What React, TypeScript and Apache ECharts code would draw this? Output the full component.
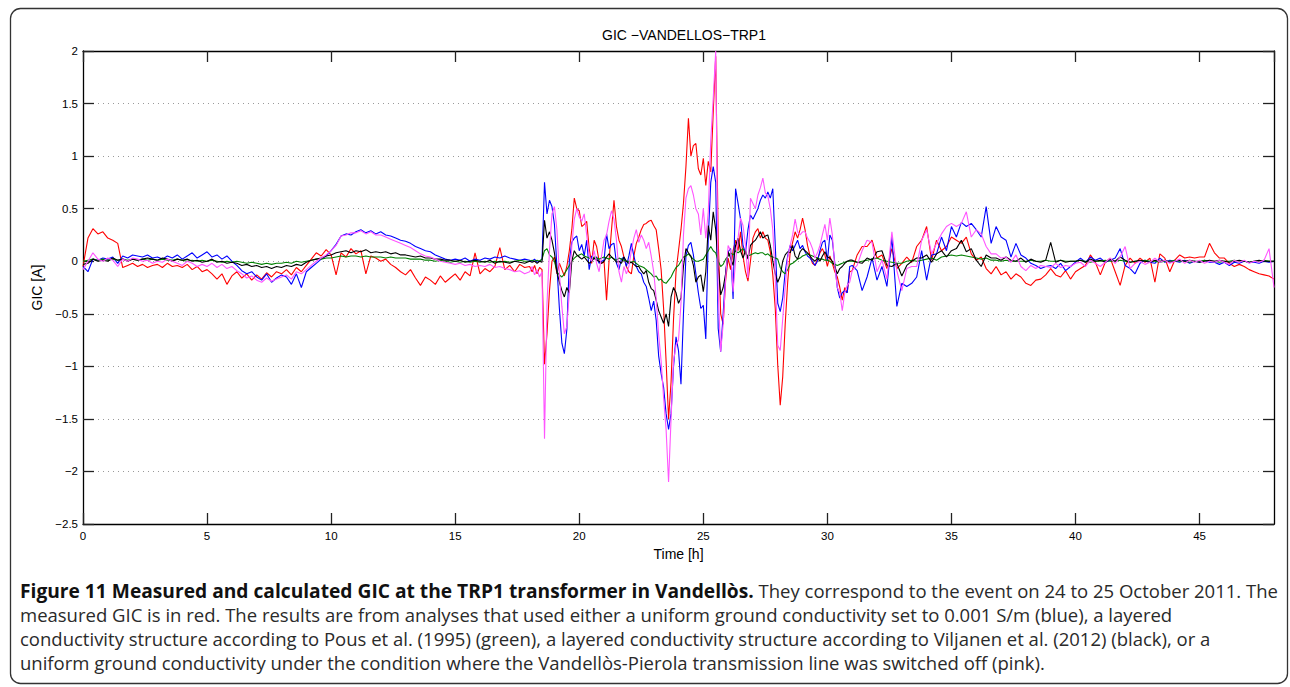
import React, { useEffect, useRef } from "react";
import * as echarts from "echarts";

// ---- time grid pieces (hours) ----
const quietStep = 0.2;
const stormStep = 0.1;

// ---- measured GIC (red) ----
const redA = [
  -0.05, 0.22, 0.31, 0.26, 0.28,
  0.22, 0.2, 0.17, -0.06, -0.04,
  -0.02, -0.05, -0.03, -0.06, -0.04,
  -0.03, -0.06, -0.02, -0.05, -0.04,
  -0.06, -0.03, -0.08, -0.05, -0.1,
  -0.08, -0.12, -0.17, -0.12, -0.22,
  -0.14, -0.1, -0.16, -0.12, -0.18,
  -0.13, -0.17, -0.11, -0.15, -0.1,
  -0.12, -0.08, -0.13, -0.06, -0.1,
  -0.04, 0.02, 0.08, 0.05, 0.11,
  0.06, -0.13, 0.08, 0.04, 0.12,
  0.07, 0.1, -0.12, 0.05, 0.03,
  0.0, 0.02, -0.03, -0.06, -0.1,
  -0.13, -0.08, -0.16, -0.23, -0.15,
  -0.18, -0.22, -0.14, -0.2, -0.16,
  -0.12, -0.18, -0.1, -0.14, 0.08,
  -0.12, -0.07, -0.1, -0.05, 0.13,
  -0.08, -0.04, -0.1, -0.03, -0.06,
];
const redB = [
  -0.05, -0.1, -0.04, -0.12, -0.06, -0.08, -0.98, -0.69, -0.28, 0.0,
  0.04, -0.12, -0.02, -0.08, -0.14, -0.05, 0.1, 0.3, 0.6, 0.5,
  0.48, 0.33, 0.35, 0.38, 0.12, -0.02, 0.2, 0.14, 0.0, -0.02,
  0.0, -0.37, 0.0, 0.3, 0.58, 0.33, 0.2, 0.14, 0.04, -0.05,
  -0.1, -0.12, 0.05, 0.17, 0.23, 0.3, 0.35, 0.36, 0.38, 0.39,
  0.34, 0.3, 0.12, -0.08, -0.45, -0.95, -1.5, -1.15, -0.55, -0.1,
  0.1, 0.3, 0.55, 0.9, 1.36, 1.0, 1.1, 1.12, 0.88, 0.82,
  0.98, 0.72, 0.95, 0.85, 1.42, 1.95, 0.2, -0.5, -0.6, -0.18,
  0.03, -0.08, 0.1, 0.2, 0.1, 0.28, 0.05, -0.1, -0.19, 0.0,
  0.22, 0.28, 0.31, 0.22, 0.28, 0.22, 0.2, 0.09, -0.13, -0.45,
  -0.99, -1.37, -1.1, -0.6, -0.2, 0.08, 0.18, 0.28, 0.22, 0.3,
  0.41, 0.3, 0.15, 0.05, -0.02, -0.04, 0.02, 0.08, 0.12, 0.06,
  -0.05, 0.05, -0.02, -0.1, -0.15, -0.25, -0.37, -0.25, -0.3, -0.1,
];
const redC = [
  -0.09, 0.06, 0.14, 0.14, 0.2,
  0.03, 0.06, -0.07, 0.12, -0.07,
  -0.02, 0.04, -0.01, 0.14, 0.2,
  0.33, 0.01, 0.2, 0.1, 0.14,
  0.23, 0.2, 0.17, 0.23, 0.07,
  0.01, 0.04, -0.07, -0.12, -0.05,
  -0.13, -0.1, -0.17, -0.12, -0.15,
  -0.21, -0.23, -0.18, -0.17, -0.13,
  -0.07, -0.13, -0.15, -0.09, -0.17,
  -0.1, -0.07, -0.04, 0.06, -0.01,
  -0.13, -0.01, 0.03, -0.1, -0.23,
  -0.04, 0.03, -0.02, 0.03, -0.01,
  0.03, -0.2, 0.07, 0.03, -0.1,
  0.01, 0.06, 0.03, 0.04, 0.03,
  0.04, 0.04, 0.17, 0.08, 0.03,
  0.03, -0.02, -0.05, -0.03, -0.05,
  -0.08, -0.1, -0.12, -0.13, -0.14,
  -0.17,
];

// ---- uniform 0.001 S/m (blue) ----
const blueA = [
  -0.05, -0.1, 0.02, 0.01, 0.03,
  0.02, 0.04, -0.02, 0.05, 0.03,
  0.06, 0.05, 0.04, 0.06, 0.03,
  0.04, 0.02, 0.05, 0.03, 0.06,
  0.02, 0.05, 0.08, 0.03, 0.06,
  0.09, 0.04, 0.06, 0.02, 0.05,
  0.0, -0.04, -0.09, -0.12, -0.1,
  -0.15, -0.18, -0.12, -0.2, -0.16,
  -0.13, -0.15, -0.22, -0.12, -0.25,
  -0.1, -0.06, -0.02, 0.02, 0.05,
  0.1, 0.16, 0.24, 0.26, 0.25,
  0.28, 0.3, 0.27, 0.29, 0.26,
  0.28, 0.25, 0.24, 0.22, 0.2,
  0.19, 0.17, 0.14, 0.12, 0.1,
  0.09, 0.06, 0.04, 0.02, 0.01,
  0.02, 0.01, 0.03, 0.0, 0.02,
  0.01, 0.03, 0.02, 0.04, 0.03,
  0.05, 0.03, 0.02, 0.01, 0.02,
];
const blueB = [
  0.01, 0.0, 0.02, -0.01, 0.0, 0.02, 0.75, 0.45, 0.58, 0.52,
  0.35, -0.05, -0.45, -0.78, -0.88, -0.65, 0.0, 0.18, 0.22, 0.24,
  0.1, 0.16, 0.05, 0.2, -0.08, 0.05, 0.02, 0.04, -0.02, 0.0,
  0.01, 0.26, 0.12, 0.16, 0.17, -0.02, -0.08, 0.02, 0.04, -0.05,
  0.05, 0.17, 0.05, -0.05, -0.1, -0.12, -0.2, -0.24, -0.35, -0.47,
  -0.38, -0.56, -0.9, -1.07, -1.2, -1.45, -1.6, -1.45, -1.0, -0.72,
  -0.85, -1.17, -0.5, 0.05, 0.15, 0.18, 0.06, -0.12, -0.3, -0.45,
  -0.42, -0.74, 0.22, 0.75, 0.9, 0.75, -0.64, -0.86, -0.5, -0.1,
  0.09, 0.12, -0.36, 0.69, 0.55, 0.4, 0.15, 0.08, 0.3, 0.44,
  0.4, 0.45, 0.5, 0.58, 0.63, 0.6, 0.66, 0.6, 0.69, 0.15,
  -0.4, -0.48, -0.35, -0.1, 0.05, 0.15, 0.1, 0.15, 0.2, 0.12,
  0.15, 0.09, 0.05, 0.03, 0.0, -0.04, 0.0, 0.1, 0.18, 0.2,
  0.0, 0.25, 0.2, -0.02, -0.25, -0.35, -0.3, -0.28, -0.3, -0.05,
];
const blueC = [
  -0.04, -0.09, -0.28, -0.15, 0.03,
  -0.18, -0.05, -0.24, 0.23, -0.43,
  -0.21, -0.24, -0.21, -0.15, 0.1,
  -0.18, 0.06, 0.07, 0.23, 0.1,
  0.33, 0.23, 0.37, 0.33, 0.36,
  0.3, 0.23, 0.52, 0.17, 0.33,
  0.23, 0.2, 0.04, 0.17, 0.06,
  0.03, -0.02, -0.04, -0.07, -0.05,
  -0.04, -0.07, -0.02, -0.09, -0.05,
  -0.01, 0.03, -0.01, 0.04, 0.01,
  0.03, -0.01, 0.01, 0.03, 0.12,
  -0.04, -0.07, -0.12, -0.02, 0.01,
  -0.01, -0.02, 0.03, -0.01, 0.01,
  0.0, -0.01, 0.01, -0.02, 0.0,
  -0.01, 0.01, -0.01, -0.01, -0.03,
  -0.01, -0.04, -0.01, -0.02, 0.0,
  -0.01, -0.01, -0.02, 0.0, -0.01,
  0.0,
];

// ---- layered, Pous et al. (green) ----
const greenA = [
  0.0, 0.01, 0.02, 0.01, 0.02,
  0.01, 0.02, 0.01, 0.02, 0.01,
  0.02, 0.01, 0.02, 0.01, 0.02,
  0.01, 0.02, 0.01, 0.01, 0.02,
  0.01, 0.0, 0.01, 0.0, 0.01,
  0.0, 0.01, 0.0, -0.01, 0.0,
  -0.01, 0.0, -0.01, -0.02, -0.01,
  -0.02, -0.03, -0.02, -0.03, -0.02,
  -0.02, -0.01, -0.02, 0.0, -0.01,
  0.0, 0.01, 0.02, 0.02, 0.03,
  0.03, 0.04, 0.05, 0.04, 0.05,
  0.05, 0.04, 0.05, 0.04, 0.04,
  0.04, 0.03, 0.04, 0.03, 0.03,
  0.03, 0.02, 0.02, 0.02, 0.01,
  0.01, 0.0, 0.01, 0.0, -0.01,
  0.0, -0.01, 0.0, -0.01, 0.0,
  -0.01, 0.0, -0.01, 0.0, -0.01,
  0.0, -0.01, 0.0, 0.01, 0.0,
];
const greenB = [
  0.0, 0.01, 0.0, 0.01, 0.0, 0.02, 0.1, 0.12, 0.06, 0.04,
  0.0, -0.1, -0.13, -0.15, -0.12, -0.08, -0.04, 0.0, 0.03, 0.05,
  0.06, 0.07, 0.05, 0.04, 0.03, 0.02, 0.04, 0.03, 0.02, 0.03,
  0.04, 0.03, 0.02, 0.04, 0.02, 0.01, 0.03, 0.02, 0.01, 0.0,
  0.0, -0.01, 0.0, -0.02, -0.04, -0.05, -0.06, -0.08, -0.1, -0.12,
  -0.15, -0.14, -0.18, -0.17, -0.2, -0.21, -0.18, -0.15, -0.1, -0.06,
  -0.04, 0.0, 0.04, 0.05, 0.07, 0.04, 0.02, 0.0, 0.0, 0.01,
  0.02, 0.06, 0.1, 0.14, 0.1, 0.08, 0.0, -0.05, -0.03, 0.02,
  0.05, 0.08, 0.06, 0.1, 0.08, 0.1, 0.12, 0.07, 0.05, 0.06,
  0.07, 0.08, 0.07, 0.08, 0.08, 0.06, 0.07, 0.05, 0.04, 0.03,
  0.02, -0.06, -0.1, -0.12, -0.08, -0.03, -0.02, 0.0, 0.02, 0.03,
  0.05, 0.06, 0.07, 0.06, 0.05, 0.04, 0.03, 0.02, 0.02, 0.01,
  0.01, 0.0, -0.02, -0.03, -0.04, -0.03, -0.02, -0.01, 0.0, 0.0,
];
const greenC = [
  0.0, -0.01, 0.0, 0.01, 0.02,
  0.03, 0.01, 0.0, -0.01, -0.02,
  -0.02, 0.0, 0.01, 0.0, 0.01,
  0.02, 0.03, 0.01, 0.04, 0.05,
  0.06, 0.05, 0.06, 0.05, 0.04,
  0.03, 0.02, 0.03, 0.01, 0.01,
  0.0, 0.01, 0.0, 0.0, 0.0,
  0.0, 0.01, 0.0, 0.0, 0.01,
  0.0, 0.0, 0.01, 0.0, 0.0,
  0.0, 0.01, 0.0, -0.01, 0.0,
  0.0, 0.01, 0.0, 0.0, 0.01,
  0.0, -0.01, 0.0, 0.0, 0.01,
  0.0, 0.0, -0.01, 0.0, 0.0,
  0.01, 0.0, 0.0, -0.01, 0.0,
  0.0, 0.01, 0.0, 0.0, -0.01,
  0.0, 0.0, 0.01, 0.0, 0.0,
  -0.01, 0.0, 0.0, 0.01, 0.0,
  0.0,
];

// ---- layered, Viljanen et al. (black) ----
const blackA = [
  -0.03, -0.02, 0.02, 0.0, 0.01,
  0.0, 0.03, 0.01, 0.02, 0.0,
  0.02, 0.01, 0.02, 0.03, 0.02,
  0.01, 0.03, 0.02, 0.0, 0.02,
  0.01, 0.02, 0.0, 0.01, -0.01,
  0.0, 0.02, -0.01, 0.0, -0.02,
  -0.01, -0.02, -0.04, -0.03, -0.05,
  -0.04, -0.06, -0.05, -0.07, -0.05,
  -0.06, -0.04, -0.05, -0.03, -0.04,
  -0.01, 0.01, 0.02, 0.03, 0.05,
  0.06, 0.08, 0.09, 0.1, 0.08,
  0.1, 0.09, 0.11, 0.08, 0.09,
  0.08, 0.09, 0.07, 0.08, 0.06,
  0.06, 0.05, 0.04, 0.05, 0.03,
  0.03, 0.02, 0.02, 0.01, 0.01,
  0.0, 0.01, -0.01, 0.0, 0.01,
  0.0, -0.01, 0.01, -0.02, 0.0,
  -0.01, -0.02, 0.0, -0.01, -0.02,
];
const blackB = [
  0.0, -0.01, 0.0, -0.02, 0.0, -0.01, 0.39, 0.22, 0.28, 0.2,
  0.08, -0.1, -0.2, -0.28, -0.34, -0.25, -0.3, 0.0, 0.1, 0.06,
  0.04, 0.02, 0.04, 0.01, -0.02, 0.0, 0.03, 0.01, 0.0, -0.02,
  0.0, 0.04, 0.07, 0.04, 0.02, -0.01, 0.0, -0.02, 0.04, 0.0,
  -0.02, -0.01, -0.03, -0.05, -0.05, -0.09, -0.12, -0.09, -0.2, -0.26,
  -0.28, -0.37, -0.47, -0.53, -0.59, -0.5, -0.62, -0.34, -0.25, -0.3,
  -0.4, -0.35, -0.05, 0.12, 0.08, 0.05, -0.04, -0.2, -0.15, -0.13,
  -0.29, -0.1, 0.34, 0.2, 0.47, 0.3, -0.05, -0.32, -0.25, -0.12,
  0.09, 0.03, -0.04, 0.15, 0.22, 0.1, 0.03, 0.1, 0.02, 0.15,
  0.18, 0.2, 0.24, 0.28, 0.22, 0.24, 0.25, 0.15, 0.0, -0.12,
  -0.2, -0.14, 0.0, 0.06, 0.09, 0.08, 0.15, 0.05, 0.02, 0.09,
  0.12, 0.1, 0.08, 0.05, 0.02, 0.0, 0.03, 0.0, 0.05, 0.09,
  0.04, 0.03, 0.0, -0.05, -0.12, -0.07, -0.05, -0.02, 0.0, 0.01,
];
const blackC = [
  0.01, -0.01, -0.02, 0.03, 0.01,
  0.09, 0.1, -0.04, -0.05, -0.02,
  -0.14, -0.04, 0.0, 0.03, 0.03,
  0.06, -0.01, 0.07, 0.1, 0.04,
  0.1, 0.12, 0.2, 0.09, 0.12,
  0.01, -0.05, 0.06, 0.03, 0.03,
  0.01, 0.04, 0.01, 0.0, 0.03,
  -0.01, 0.02, 0.0, -0.01, 0.01,
  0.18, -0.01, 0.01, -0.01, 0.0,
  0.0, 0.01, -0.01, 0.02, 0.0,
  0.01, -0.01, 0.02, 0.0, 0.04,
  0.01, -0.01, 0.0, 0.01, 0.0,
  -0.01, 0.01, 0.0, 0.01, -0.01,
  0.0, 0.01, 0.0, 0.01, 0.0,
  -0.01, 0.0, 0.01, 0.0, 0.01,
  0.0, -0.01, 0.0, 0.01, 0.0,
  -0.01, 0.0, 0.01, 0.0, 0.0,
  0.0,
];

// ---- uniform, line switched off (pink) ----
const pinkA = [
  -0.08, 0.0, 0.08, 0.02, 0.0,
  0.03, 0.01, -0.05, 0.02, 0.0,
  0.03, 0.02, 0.0, 0.01, -0.02,
  0.0, -0.01, 0.02, 0.0, -0.02,
  -0.04, 0.0, -0.02, -0.05, -0.03,
  -0.05, -0.02, -0.06, -0.03, -0.07,
  -0.05, -0.09, -0.12, -0.16, -0.14,
  -0.18, -0.2, -0.16, -0.19, -0.17,
  -0.15, -0.13, -0.17, -0.1, -0.12,
  -0.08, -0.04, 0.0, 0.03, 0.06,
  0.1, 0.15, 0.24, 0.25, 0.27,
  0.27, 0.29, 0.26, 0.28, 0.25,
  0.25, 0.23, 0.21, 0.19, 0.17,
  0.15, 0.13, 0.1, 0.07, 0.05,
  0.04, 0.02, 0.0, -0.01, -0.02,
  -0.03, -0.02, -0.04, -0.03, -0.05,
  -0.04, -0.05, -0.03, -0.06, -0.05,
  -0.07, -0.08, -0.1, -0.09, -0.12,
];
const pinkB = [
  -0.1, -0.05, -0.13, -0.08, -0.15, -0.1, -1.69, -0.4, 0.1, 0.45,
  0.52, 0.3, -0.12, -0.43, -0.69, -0.62, -0.3, 0.15, 0.4, 0.5,
  0.42, 0.38, 0.45, 0.25, 0.05, 0.0, 0.1, -0.02, -0.1, 0.05,
  0.2, 0.25, 0.38, 0.48, 0.4, 0.2, -0.1, -0.2, -0.05, -0.12,
  -0.05, 0.1, 0.22, 0.3, 0.18, 0.25, 0.2, 0.12, 0.18, 0.05,
  -0.1, -0.35, -0.7, -0.95, -1.3, -1.6, -2.1, -1.5, -0.95, -0.8,
  -0.75, -0.4, 0.25, 0.6, 0.69, 0.72, 0.63, 0.5, 0.45, 0.25,
  0.5, 0.22, 0.47, 1.15, 1.55, 2.0, -0.3, -0.86, -0.6, -0.16,
  0.15, 0.1, -0.29, 0.0, 0.22, 0.41, 0.34, 0.15, -0.16, 0.6,
  0.55, 0.5, 0.63, 0.7, 0.79, 0.65, 0.62, 0.5, 0.3, -0.16,
  -0.8, -0.85, -0.55, -0.25, 0.03, 0.15, 0.25, 0.4, 0.28, 0.25,
  0.28, 0.28, 0.22, 0.18, 0.12, 0.03, 0.08, 0.15, 0.25, 0.35,
  0.2, 0.41, 0.25, -0.05, -0.25, -0.3, -0.47, -0.3, -0.23, -0.2,
];
const pinkC = [
  -0.09, -0.04, 0.1, 0.2, 0.18,
  -0.1, 0.01, -0.17, 0.28, -0.09,
  -0.28, -0.07, -0.05, -0.05, 0.2,
  0.3, 0.07, 0.17, 0.26, 0.33,
  0.36, 0.33, 0.36, 0.47, 0.23,
  0.3, 0.26, 0.14, 0.07, 0.07,
  0.03, 0.04, -0.01, 0.06, -0.05,
  -0.09, -0.04, -0.07, -0.04, -0.05,
  -0.06, -0.02, -0.06, -0.04, -0.05,
  -0.02, -0.01, -0.05, 0.01, -0.02,
  -0.05, -0.01, 0.03, -0.02, 0.04,
  0.14, -0.07, -0.02, 0.0, -0.03,
  -0.01, 0.03, -0.01, 0.01, -0.02,
  0.0, 0.02, -0.02, 0.01, -0.01,
  0.01, -0.02, 0.0, -0.01, 0.01,
  -0.01, -0.03, 0.01, -0.01, 0.01,
  -0.02, 0.0, -0.01, 0.01, 0.12,
  -0.25,
];

const xTicks = [0, 5, 10, 15, 20, 25, 30, 35, 40, 45];
const yTicks = [-2.5, -2, -1.5, -1, -0.5, 0, 0.5, 1, 1.5, 2];

const captionLines = [
  "measured GIC is in red. The results are from analyses that used either a uniform ground conductivity set to 0.001 S/m (blue), a layered",
  "conductivity structure according to Pous et al. (1995) (green), a layered conductivity structure according to Viljanen et al. (2012) (black), or a",
  "uniform ground conductivity under the condition where the Vandellòs-Pierola transmission line was switched off (pink).",
];
const captionBold = "Figure 11 Measured and calculated GIC at the TRP1 transformer in Vandellòs.";
const captionFirstRest = " They correspond to the event on 24 to 25 October 2011. The";

function buildTimes(): number[] {
  const t: number[] = [];
  for (let i = 0; i < redA.length; i++) t.push(+(i * quietStep).toFixed(2));
  for (let i = 0; i < redB.length; i++) t.push(+(18 + i * stormStep).toFixed(2));
  for (let i = 0; i < redC.length; i++) t.push(+(31 + i * quietStep).toFixed(2));
  return t;
}

const fmtMinus = (v: number) => String(v).replace("-", "\u2212");

export default function App() {
  const ref = useRef<HTMLDivElement>(null);
  useEffect(() => {
    if (!ref.current) return;
    const chart = echarts.init(ref.current, undefined, { renderer: "svg" });
    const times = buildTimes();
    const mk = (a: number[], b: number[], c: number[]) =>
      [...a, ...b, ...c].map((v, i) => [times[i], v]);
    const font = "'Liberation Sans', Arial, Helvetica, sans-serif";
    const seriesDefs = [
      { name: "measured", color: "#ff0000", vals: mk(redA, redB, redC) },
      { name: "uniform", color: "#0000ff", vals: mk(blueA, blueB, blueC) },
      { name: "Pous", color: "#008000", vals: mk(greenA, greenB, greenC) },
      { name: "Viljanen", color: "#000000", vals: mk(blackA, blackB, blackC) },
      { name: "switched off", color: "#ff55ff", vals: mk(pinkA, pinkB, pinkC) },
    ];
    const axisLine = { show: true, onZero: false, lineStyle: { color: "#000", width: 1.3 } };
    const axisTick = { show: true, inside: true, length: 11, lineStyle: { color: "#222", width: 1.3 } };
    const captionFont = "'Open Sans', 'Noto Sans', sans-serif";
    const capX = 20;
    const capY0 = 590;
    const capDy = 24;
    chart.setOption({
      animation: false,
      backgroundColor: "#ffffff",
      title: {
        text: "GIC \u2212VANDELLOS\u2212TRP1",
        left: 679,
        top: 23,
        textAlign: "center",
        textStyle: { fontFamily: font, fontSize: 14, fontWeight: "normal", color: "#000" },
      },
      grid: { left: 83, right: 16, top: 51, bottom: 163, containLabel: false },
      xAxis: [
        {
          type: "value",
          min: 0,
          max: 48,
          interval: 5,
          position: "bottom",
          name: "Time [h]",
          nameLocation: "middle",
          nameGap: 20,
          nameTextStyle: { fontFamily: font, fontSize: 14, color: "#000" },
          axisLine,
          axisTick,
          axisLabel: {
            fontFamily: font,
            fontSize: 11.5,
            color: "#000",
            margin: 6,
            showMaxLabel: false,
            formatter: (v: number) => (xTicks.includes(v) ? String(v) : ""),
          },
          splitLine: { show: false },
        },
        {
          type: "value",
          min: 0,
          max: 48,
          interval: 5,
          position: "top",
          axisLine,
          axisTick,
          axisLabel: { show: false },
          splitLine: { show: false },
        },
      ],
      yAxis: [
        {
          type: "value",
          min: -2.5,
          max: 2,
          interval: 0.5,
          position: "left",
          name: "GIC [A]",
          nameLocation: "middle",
          nameGap: 39,
          nameRotate: 90,
          nameTextStyle: { fontFamily: font, fontSize: 14, color: "#000" },
          axisLine,
          axisTick,
          axisLabel: {
            fontFamily: font,
            fontSize: 11.5,
            color: "#000",
            margin: 5,
            formatter: (v: number) => (yTicks.includes(v) ? fmtMinus(v) : ""),
          },
          splitLine: { show: true, lineStyle: { color: "#9a9a9a", width: 1, type: [1, 4] } },
        },
        {
          type: "value",
          min: -2.5,
          max: 2,
          interval: 0.5,
          position: "right",
          axisLine,
          axisTick,
          axisLabel: { show: false },
          splitLine: { show: false },
        },
      ],
      series: seriesDefs.map((s) => ({
        name: s.name,
        type: "line",
        xAxisIndex: 0,
        yAxisIndex: 0,
        data: s.vals,
        showSymbol: false,
        symbol: "none",
        lineStyle: { color: s.color, width: 1.1 },
        itemStyle: { color: s.color },
        emphasis: { disabled: true },
        silent: true,
      })),
      graphic: [
        {
          type: "rect",
          z: -10,
          shape: { x: 10.5, y: 8.5, width: 1277, height: 675, r: 10 },
          style: { fill: "none", stroke: "#333", lineWidth: 1.3 },
        },
        {
          type: "text",
          x: capX,
          y: capY0,
          style: {
            text: "{b|" + captionBold + "}{n|" + captionFirstRest + "}",
            verticalAlign: "middle",
            rich: {
              b: { fontFamily: captionFont, fontSize: 19.2, fontWeight: "bold", fill: "#111" },
              n: { fontFamily: captionFont, fontSize: 18.5, fill: "#2a2a2a" },
            },
          },
        },
        ...captionLines.map((line, i) => ({
          type: "text",
          x: capX,
          y: capY0 + capDy * (i + 1),
          style: {
            text: line,
            fontFamily: captionFont,
            fontSize: 18.5,
            fill: "#2a2a2a",
            verticalAlign: "middle",
          },
        })),
      ],
    });
    return () => chart.dispose();
  }, []);
  return (
    <div
      ref={ref}
      style={{ position: "fixed", left: 0, top: 0, width: 1290, height: 687, background: "#fff" }}
    />
  );
}
